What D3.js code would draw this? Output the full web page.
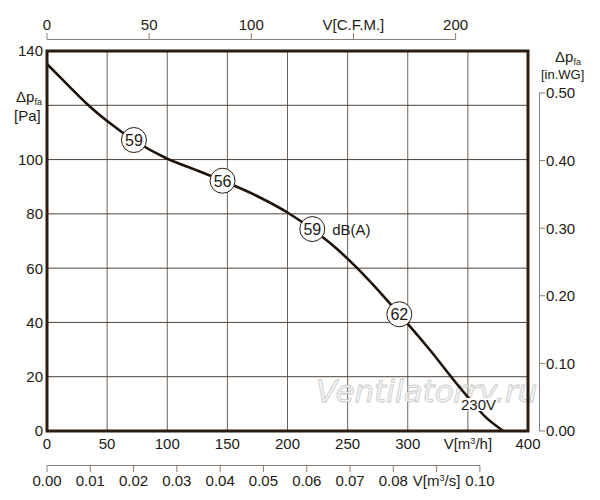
<!DOCTYPE html>
<html>
<head>
<meta charset="utf-8">
<title>Fan curve</title>
<script src="https://cdn.jsdelivr.net/npm/d3@7"></script>
<style>
    body { margin: 0; background: white; }
    text { font-family: "Liberation Sans", Arial, sans-serif; fill: #221a14; }
</style>
</head>
<body>
<svg id="chart" width="600" height="500"></svg>
<script>

    // curve: flow [m3/h] vs pressure [Pa]
    var flow     = [0, 17, 33.5, 50, 72, 100, 125, 146, 175, 200, 220, 240, 258, 273, 293, 300, 320, 336, 350, 365, 379.5]
    var pressure = [135.2, 127.6, 120.4, 114.2, 107.2, 100.3, 96, 92.2, 86.5, 80.5, 74.5, 67.5, 60, 53, 43, 39.5, 29, 20, 12.5, 5, 0]

    // noise markers along the curve
    var noiseFlow     = [72.3, 146, 220.6, 293]
    var noisePressure = [107.2, 92.2, 74.4, 43]
    var noiseLabel    = ["59", "56", "59", "62"]

    // axis ticks (120 Pa carries no label, the axis title sits there)
    var m3hTicks  = [0, 50, 100, 150, 200, 250, 300, 350, 400]
    var cfmTicks  = [0, 50, 100, 150, 200]
    var m3sTicks  = [0, 0.01, 0.02, 0.03, 0.04, 0.05, 0.06, 0.07, 0.08, 0.09, 0.10]
    var paTicks   = [0, 20, 40, 60, 80, 100, 120, 140]
    var paLabels  = [0, 20, 40, 60, 80, 100, 140]
    var inwgTicks = [0, 0.1, 0.2, 0.3, 0.4, 0.5]

    var svg = d3.select("#chart")

    var pLeft = 47, pRight = 528, pTop = 51, pBottom = 431

    var x = d3.scaleLinear().domain([0, 400]).range([pLeft, pRight])
    var y = d3.scaleLinear().domain([0, 140]).range([pBottom, pTop])
    // other units, same physical range
    var xCfm = d3.scaleLinear().domain([0, 400 / 1.699]).range([pLeft, pRight])
    var xM3s = d3.scaleLinear().domain([0, 400 / 3600]).range([pLeft, pRight])
    var yWg  = d3.scaleLinear().domain([0, 140 / 249.09]).range([pBottom, pTop])

    // grid
    svg.append("g").selectAll("line")
        .data(m3hTicks.slice(1, -1))
        .enter().append("line")
        .attr("x1", d => x(d)).attr("x2", d => x(d))
        .attr("y1", pTop).attr("y2", pBottom)
        .style("stroke", "#6e6258").style("stroke-width", 1)
    svg.append("g").selectAll("line")
        .data(paTicks.slice(1, -1))
        .enter().append("line")
        .attr("x1", pLeft).attr("x2", pRight)
        .attr("y1", d => y(d)).attr("y2", d => y(d))
        .style("stroke", "#4e4237").style("stroke-width", 1)

    // watermark
    svg.append("text")
        .attr("x", 316).attr("y", 402)
        .style("font", "italic 31px 'DejaVu Sans', sans-serif")
        .style("fill", "#f4f4f4")
        .style("stroke", "#c4c4c4")
        .style("stroke-width", 0.8)
        .style("opacity", 0.9)
        .text("Ventilatorry.ru")

    // curve
    var pts = flow.map((f, i) => [f, pressure[i]])
    var line = d3.line().x(d => x(d[0])).y(d => y(d[1])).curve(d3.curveMonotoneX)
    svg.append("path")
        .datum(pts)
        .attr("d", line)
        .style("fill", "none")
        .style("stroke", "#1e130b")
        .style("stroke-width", 2.6)

    // frame
    svg.append("rect")
        .attr("x", pLeft).attr("y", pTop)
        .attr("width", pRight - pLeft).attr("height", pBottom - pTop)
        .style("fill", "none")
        .style("stroke", "#2a1c11")
        .style("stroke-width", 3)

    // noise circles
    var marks = svg.append("g").selectAll("g")
        .data(noiseLabel)
        .enter().append("g")
        .attr("transform", (d, i) => "translate(" + x(noiseFlow[i]) + "," + y(noisePressure[i]) + ")")
    marks.append("circle")
        .attr("r", 12.5)
        .style("fill", "white")
        .style("stroke", "#2a1c11")
        .style("stroke-width", 1)
    marks.append("text")
        .attr("text-anchor", "middle")
        .attr("dy", "0.36em")
        .style("font-size", "16px")
        .text(d => d)
    svg.append("text")
        .attr("x", x(noiseFlow[2]) + 20).attr("y", y(noisePressure[2]) + 5.5)
        .style("font-size", "15px")
        .text("dB(A)")

    // 230V label over the curve
    var vLab = svg.append("text")
        .attr("x", 461).attr("y", 410)
        .style("font-size", "15px")
        .text("230V")
    var bb = vLab.node().getBBox()
    svg.insert("rect", () => vLab.node())
        .attr("x", bb.x - 1).attr("y", bb.y + 2)
        .attr("width", bb.width + 2).attr("height", bb.height - 4)
        .style("fill", "white")

    // left axis labels (Pa)
    svg.append("g").selectAll("text")
        .data(paLabels)
        .enter().append("text")
        .attr("x", 43).attr("y", d => y(d))
        .attr("dy", "0.36em")
        .attr("text-anchor", "end")
        .style("font-size", "15px")
        .text(d => d)
    var lt = svg.append("text").attr("x", 16).attr("y", 102).style("font-size", "15px")
    lt.append("tspan").text("Δp")
    lt.append("tspan").attr("dy", 3).style("font-size", "9px").text("fa")
    svg.append("text").attr("x", 14).attr("y", 121).style("font-size", "15px").text("[Pa]")

    // bottom labels (m3/h)
    svg.append("g").selectAll("text")
        .data(m3hTicks)
        .enter().append("text")
        .attr("x", d => x(d)).attr("y", 449)
        .attr("text-anchor", "middle")
        .style("font-size", "15px")
        .each(function(d) {
            var t = d3.select(this)
            if (d == 350) {
                t.append("tspan").text("V[m")
                t.append("tspan").attr("dy", -5).style("font-size", "9px").text("3")
                t.append("tspan").attr("dy", 5).text("/h]")
            } else t.text(d)
        })

    // top axis (CFM)
    svg.append("line")
        .attr("x1", xCfm(0)).attr("x2", xCfm(200))
        .attr("y1", 39.5).attr("y2", 39.5)
        .style("stroke", "#8a7e74").style("stroke-width", 1)
    svg.append("g").selectAll("line")
        .data(cfmTicks)
        .enter().append("line")
        .attr("x1", d => xCfm(d)).attr("x2", d => xCfm(d))
        .attr("y1", 33).attr("y2", 39.5)
        .style("stroke", "#8a7e74").style("stroke-width", 1)
    svg.append("g").selectAll("text")
        .data(cfmTicks)
        .enter().append("text")
        .attr("x", d => xCfm(d)).attr("y", 30)
        .attr("text-anchor", "middle")
        .style("font-size", "15px")
        .text(d => d == 150 ? "V[C.F.M.]" : d)

    // bottom axis (m3/s)
    svg.append("line")
        .attr("x1", xM3s(0)).attr("x2", xM3s(0.1))
        .attr("y1", 465.5).attr("y2", 465.5)
        .style("stroke", "#8a7e74").style("stroke-width", 1)
    svg.append("g").selectAll("line")
        .data(m3sTicks)
        .enter().append("line")
        .attr("x1", d => xM3s(d)).attr("x2", d => xM3s(d))
        .attr("y1", 465.5).attr("y2", 472)
        .style("stroke", "#8a7e74").style("stroke-width", 1)
    svg.append("g").selectAll("text")
        .data(m3sTicks)
        .enter().append("text")
        .attr("x", d => xM3s(d)).attr("y", 486)
        .attr("text-anchor", "middle")
        .style("font-size", "15px")
        .each(function(d) {
            var t = d3.select(this)
            if (Math.abs(d - 0.09) < 1e-9) {
                t.append("tspan").text("V[m")
                t.append("tspan").attr("dy", -5).style("font-size", "9px").text("3")
                t.append("tspan").attr("dy", 5).text("/s]")
            } else t.text(d3.format(".2f")(d))
        })

    // right axis (in.WG)
    svg.append("line")
        .attr("x1", 539.5).attr("x2", 539.5)
        .attr("y1", yWg(0.5)).attr("y2", yWg(0))
        .style("stroke", "#8a7e74").style("stroke-width", 1)
    svg.append("g").selectAll("line")
        .data(inwgTicks)
        .enter().append("line")
        .attr("x1", 539.5).attr("x2", 545)
        .attr("y1", d => yWg(d)).attr("y2", d => yWg(d))
        .style("stroke", "#8a7e74").style("stroke-width", 1)
    svg.append("g").selectAll("text")
        .data(inwgTicks)
        .enter().append("text")
        .attr("x", 546).attr("y", d => yWg(d))
        .attr("dy", "0.36em")
        .style("font-size", "15px")
        .text(d => d3.format(".2f")(d))
    var rt = svg.append("text").attr("x", 555).attr("y", 62).style("font-size", "15px")
    rt.append("tspan").text("Δp")
    rt.append("tspan").attr("dy", 3).style("font-size", "9px").text("fa")
    svg.append("text").attr("x", 541).attr("y", 79).style("font-size", "13px").text("[in.WG]")

</script>
</body>
</html>
